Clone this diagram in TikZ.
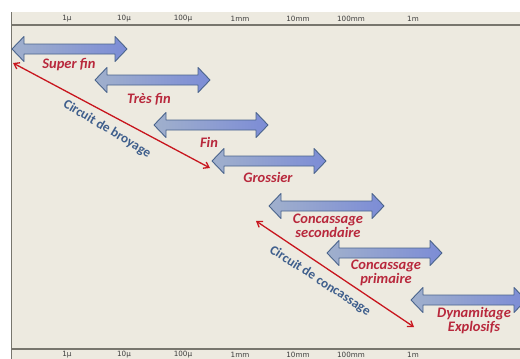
\documentclass[tikz,border=0pt]{standalone}
\usepackage{fontspec}
\setmainfont{Carlito}
\newfontfamily\tickfont{DejaVu Sans}
\usetikzlibrary{arrows.meta}

\definecolor{paper}{RGB}{237,234,224}
\definecolor{frameline}{RGB}{120,118,110}
\definecolor{ticktext}{RGB}{60,60,60}
\definecolor{bandedge}{RGB}{74,100,140}
\definecolor{bandleft}{RGB}{160,176,204}
\definecolor{bandmid}{RGB}{232,239,250}
\definecolor{bandright}{RGB}{124,140,214}
\definecolor{labelred}{RGB}{184,40,60}
\definecolor{circuitred}{RGB}{200,22,30}
\definecolor{circuitblue}{RGB}{62,94,140}

\tikzset{
  band/.style={draw=bandedge, line width=0.9pt, line join=round,
    left color=bandleft, middle color=bandmid, right color=bandright},
  caption/.style={text=labelred, font=\fontsize{14.5}{15}\selectfont\bfseries\itshape,
    align=center, inner sep=0pt},
  tick/.style={text=ticktext, font=\tickfont\fontsize{7.2}{8}\selectfont, inner sep=0pt},
  circuit/.style={draw=circuitred, line width=1.3pt,
    {Straight Barb[length=5pt,width=7pt]}-{Straight Barb[length=5pt,width=7pt]}},
  circuitlabel/.style={text=circuitblue, font=\fontsize{13.3}{14}\selectfont\bfseries, inner sep=0pt},
}

% double-headed band: name, left x, right x, centre y
\newcommand\band[4]{%
  \path[band] (#2,#4) -- ({#2+12},{#4-12.5}) -- ({#2+12},{#4-5})
    -- ({#3-12},{#4-5}) -- ({#3-12},{#4-12.5}) -- (#3,#4)
    -- ({#3-12},{#4+12.5}) -- ({#3-12},{#4+5}) -- ({#2+12},{#4+5})
    -- ({#2+12},{#4+12.5}) -- cycle;
  \coordinate (#1) at ({(#2+#3)/2},#4);}

\begin{document}
\begin{tikzpicture}[x=1pt, y=-1pt]
\useasboundingbox (0,0) rectangle (520,359);
\clip (0,0) rectangle (520,359);

% paper and frame
\fill[white] (0,0) rectangle (520,359);
\fill[paper] (11,12) rectangle (521,360);
\draw[frameline, line width=0.9pt] (11,12) -- (11,360);
\draw[frameline, line width=1.4pt] (11,25) -- (521,25);
\draw[frameline, line width=1.4pt] (11,349) -- (521,349);

% size scale, top and bottom
\foreach \x/\t [count=\i] in {67/1µ, 124/10µ, 183/100µ, 240/1mm, 298/10mm, 351/100mm, 413/1m}{
  \node[tick] (top\i) at (\x,18.5) {\t};
  \node[tick] (bot\i) at (\x,354.5) {\t};
}

% size ranges
\band{superfin}{12}{127}{49}
\band{tresfin}{95}{210}{80}
\band{fin}{154}{268}{125}
\band{grossier}{212}{326}{161}
\band{secondaire}{269}{384}{206}
\band{primaire}{327}{442}{253}
\band{dynamitage}{411}{526}{300}

\node[caption] (lsuperfin) at (69,65) {Super fin};
\node[caption] (ltresfin) at (149,99) {Très fin};
\node[caption] (lfin) at (209,142) {Fin};
\node[caption] (lgrossier) at (268,177) {Grossier};
\node[caption] (lsecondaire) at (328,226) {Concassage\\[-1pt]secondaire};
\node[caption] (lprimaire) at (386,273) {Concassage\\[-1pt]primaire};
\node[caption] (ldynamitage) at (474,321) {Dynamitage\\[-1pt]Explosifs};

% circuits
\coordinate (broyA) at (13,63);
\coordinate (broyB) at (210,168);
\coordinate (concA) at (256,221);
\coordinate (concB) at (414,327);
\draw[circuit] (broyA) -- (broyB);
\draw[circuit] (concA) -- (concB);
\node[circuitlabel, rotate=-31] (lbroyage) at (107,129) {Circuit de broyage};
\node[circuitlabel, rotate=-33] (lconcassage) at (320,281) {Circuit de concassage};
\end{tikzpicture}
\end{document}
